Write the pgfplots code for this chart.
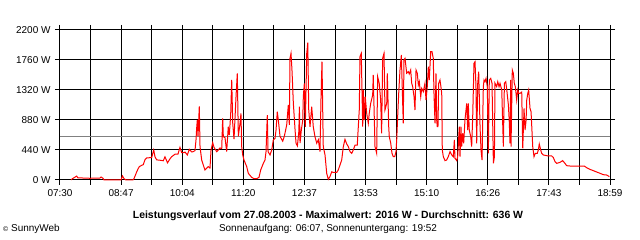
\documentclass[border=0pt]{standalone}
\usepackage{pgfplots}
\pgfplotsset{compat=1.18}
\usepackage{fontspec}
\setmainfont{Liberation Sans}
\pgfplotstableread{
t W
13.8 0
15.0 15
20.9 57
22.5 30
31.3 29
37.6 25
43.8 29
50.1 29
51.4 44
53.9 25
55.1 0
76.4 0
78.3 59
80.2 20
82.7 0
91.4 0
92.7 20
96.1 120
97.7 160
99.3 196
102.3 215
104.3 225
106.5 298
108.6 323
114.9 330
116.9 420
117.4 440
119.0 340
121.1 295
125.3 290
129.4 282
131.5 340
134.7 252
137.2 300
139.9 342
144.1 378
147.8 380
150.3 479
152.5 401
155.3 400
156.6 410
159.5 367
162.0 450
165.0 411
166.6 415
169.1 430
170.4 592
171.2 758
172.0 880
172.9 640
174.5 1080
175.4 489
177.5 293
179.5 220
181.6 147
183.5 170
185.8 196
187.9 175
189.2 440
191.3 548
192.9 480
196.3 416
198.3 440
200.4 470
202.6 460
203.8 905
204.6 636
206.7 620
208.8 416
210.8 782
212.1 660
213.8 953
215.1 1467
216.4 830
218.0 600
220.5 1222
222.1 1565
223.4 640
225.5 830
226.7 978
227.6 489
228.9 367
230.5 293
233.9 196
235.9 98
240.1 39
243.0 20
246.4 20
249.3 39
251.4 147
254.7 244
256.8 293
258.1 416
259.7 953
260.6 416
263.1 367
265.2 440
267.2 587
269.4 612
270.6 730
272.2 1002
273.5 880
275.6 640
279.0 570
281.0 640
284.0 807
286.0 1100
287.3 807
288.1 1785
289.4 1858
290.7 1589
292.3 1130
294.5 730
295.7 538
297.4 500
299.2 710
299.9 1075
300.7 540
302.3 730
304.1 880
304.8 1222
306.1 1418
307.3 780
309.1 1858
310.4 2016
311.6 1030
313.2 780
315.3 1075
317.3 780
319.4 636
321.6 540
323.6 590
325.7 416
327.0 1222
328.2 1735
329.8 489
332.0 367
334.1 98
336.1 10
338.2 49
340.4 120
342.4 110
346.6 110
348.6 147
352.9 293
354.9 489
357.0 596
359.2 528
361.2 489
363.3 416
365.4 391
367.4 440
369.6 513
372.4 513
373.7 782
374.9 1027
375.8 1809
377.4 1858
379.2 782
379.9 1320
381.2 880
382.4 1222
384.2 978
386.2 831
387.4 978
389.2 1124
391.7 1247
392.4 1540
394.6 489
396.7 391
397.9 1515
399.9 1418
401.7 1173
402.9 685
404.2 1785
405.9 1858
407.1 1027
409.3 1124
410.0 1565
411.8 782
412.5 636
414.3 540
415.9 391
417.5 342
419.3 342
420.9 416
421.8 587
423.0 929
424.3 1271
425.9 1613
427.6 1833
430.0 831
430.9 1760
432.2 1785
434.3 1565
436.3 1589
437.5 1555
439.3 1613
440.6 1418
441.8 1369
443.5 1222
444.7 1027
446.0 1613
447.6 1565
448.9 1393
450.1 1442
451.9 1222
453.1 1344
455.1 1295
457.2 1418
458.5 1173
460.1 1369
461.4 1662
462.6 1467
464.4 1882
466.0 1882
467.6 1785
468.5 1271
469.8 831
471.0 1565
471.9 880
472.6 782
473.5 782
474.4 1418
476.0 1467
476.9 1393
478.2 1271
478.9 440
480.2 342
482.3 284
484.4 293
486.4 342
488.6 416
490.7 367
492.7 342
494.0 587
494.8 318
497.0 284
498.2 342
500.2 782
501.1 342
502.3 782
503.2 489
504.4 685
505.7 538
507.3 880
509.5 1124
510.7 733
511.5 1124
512.7 733
514.5 636
515.7 489
517.0 929
518.6 1711
519.9 1735
521.1 1369
522.0 538
523.3 1418
524.5 1589
526.2 782
527.4 440
528.7 293
530.3 1369
531.2 1467
532.4 1442
533.7 1491
535.3 1369
536.6 391
537.8 1467
539.6 1491
541.2 1418
542.9 244
544.2 342
544.9 1418
547.0 1369
548.4 1442
550.0 1369
551.2 1418
553.4 1320
555.4 489
556.7 1418
558.4 1442
559.7 1320
561.7 1100
562.9 831
563.7 538
564.6 1467
565.0 489
566.6 1613
567.9 1565
569.1 1418
570.4 1369
572.1 1173
573.4 1320
574.6 1271
576.3 1271
578.4 1290
579.7 464
581.3 1051
582.6 733
583.9 880
584.7 1173
586.0 1271
587.1 1320
588.8 1051
590.1 1002
592.2 489
593.8 342
595.4 391
597.9 391
599.2 440
600.4 528
602.2 440
603.4 391
605.4 367
607.6 362
611.7 352
616.0 352
618.0 330
620.1 269
622.2 244
626.4 259
629.7 284
632.6 244
634.7 210
638.9 205
645.1 205
651.4 205
656.8 205
659.8 180
663.9 156
668.1 137
672.4 117
676.5 98
680.6 78
684.9 73
688.2 49
}\power
\begin{document}
\begin{tikzpicture}
\useasboundingbox (0,0) rectangle (640bp,240bp);
\begin{axis}[
  at={(60bp,60bp)}, anchor=south west,
  scale only axis, width=550bp, height=150bp,
  xmin=0, xmax=689, ymin=0, ymax=2200,
  axis line style={black, line width=1bp},
  xtick={0,38.28,76.56,114.83,153.11,191.39,229.67,267.94,306.22,344.5,382.78,421.06,459.33,497.61,535.89,574.17,612.44,650.72,689},
  xticklabels={07:30,,08:47,,10:04,,11:20,,12:37,,13:53,,15:10,,16:26,,17:43,,18:59},
  ytick={0,440,880,1320,1760,2200},
  yticklabels={0 W,440 W,880 W,1320 W,1760 W,2200 W},
  tick align=outside, major tick length=5bp,
  tick style={black, line width=1bp},
  grid=major, major grid style={black, line width=1bp},
  tick label style={font=\fontsize{10}{12}\selectfont},
  /pgf/number format/assume math mode=true,
  xticklabel style={yshift=-1bp},
  yticklabel style={xshift=-1bp},
  clip=false,
]
\addplot[draw={rgb,255:red,128;green,128;blue,128}, line width=1bp] coordinates {(0,636) (689,636)};
\addplot[draw={rgb,255:red,255;green,0;blue,0}, line width=1bp] table[x=t,y=W] {\power};
\end{axis}
\node[font=\fontsize{10.5}{12}\selectfont\bfseries] at (328bp,24bp) {Leistungsverlauf vom 27.08.2003 - Maximalwert: 2016 W - Durchschnitt: 636 W};
\node[font=\fontsize{10}{12}\selectfont] at (328bp,11bp) {Sonnenaufgang: 06:07, Sonnenuntergang: 19:52};
\node[font=\fontsize{10}{12}\selectfont, anchor=west, inner sep=0pt] at (3bp,11bp) {\raisebox{0.5pt}{\scriptsize ©} SunnyWeb};
\end{tikzpicture}
\end{document}
